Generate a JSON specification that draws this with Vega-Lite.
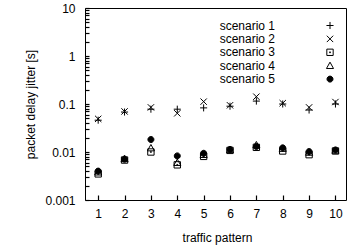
{
  "$schema": "https://vega.github.io/schema/vega-lite/v6.json",
  "width": 261,
  "height": 192,
  "autosize": {"type": "none"},
  "padding": {"left": 85, "top": 8, "right": 4, "bottom": 48},
  "background": "white",
  "config": {
    "view": {"stroke": "black", "strokeWidth": 1},
    "font": "Liberation Sans",
    "axis": {"labelFont": "Liberation Sans", "labelFontSize": 12, "labelColor": "black", "titleFont": "Liberation Sans", "titleFontSize": 12, "titleFontWeight": "normal", "titleColor": "black", "domain": false, "ticks": true, "tickColor": "#000000", "tickWidth": 1.2, "grid": false},
    "legend": {"labelFont": "Liberation Sans", "labelFontSize": 12, "labelColor": "black"}
  },
  "data": {"values": [
    {"p":1,"s":"scenario 1","v":0.046},{"p":1,"s":"scenario 2","v":0.049},{"p":1,"s":"scenario 3","v":0.0035},{"p":1,"s":"scenario 4","v":0.0038},{"p":1,"s":"scenario 5","v":0.0040},
    {"p":2,"s":"scenario 1","v":0.068},{"p":2,"s":"scenario 2","v":0.070},{"p":2,"s":"scenario 3","v":0.0068},{"p":2,"s":"scenario 4","v":0.0072},{"p":2,"s":"scenario 5","v":0.0071},
    {"p":3,"s":"scenario 1","v":0.078},{"p":3,"s":"scenario 2","v":0.085},{"p":3,"s":"scenario 3","v":0.0100},{"p":3,"s":"scenario 4","v":0.0121},{"p":3,"s":"scenario 5","v":0.0182},
    {"p":4,"s":"scenario 1","v":0.078},{"p":4,"s":"scenario 2","v":0.064},{"p":4,"s":"scenario 3","v":0.0054},{"p":4,"s":"scenario 4","v":0.0060},{"p":4,"s":"scenario 5","v":0.0083},
    {"p":5,"s":"scenario 1","v":0.083},{"p":5,"s":"scenario 2","v":0.112},{"p":5,"s":"scenario 3","v":0.0081},{"p":5,"s":"scenario 4","v":0.0088},{"p":5,"s":"scenario 5","v":0.0094},
    {"p":6,"s":"scenario 1","v":0.090},{"p":6,"s":"scenario 2","v":0.094},{"p":6,"s":"scenario 3","v":0.0108},{"p":6,"s":"scenario 4","v":0.0111},{"p":6,"s":"scenario 5","v":0.0113},
    {"p":7,"s":"scenario 1","v":0.115},{"p":7,"s":"scenario 2","v":0.142},{"p":7,"s":"scenario 3","v":0.0125},{"p":7,"s":"scenario 4","v":0.0140},{"p":7,"s":"scenario 5","v":0.0130},
    {"p":8,"s":"scenario 1","v":0.100},{"p":8,"s":"scenario 2","v":0.104},{"p":8,"s":"scenario 3","v":0.0105},{"p":8,"s":"scenario 4","v":0.0118},{"p":8,"s":"scenario 5","v":0.0122},
    {"p":9,"s":"scenario 1","v":0.075},{"p":9,"s":"scenario 2","v":0.085},{"p":9,"s":"scenario 3","v":0.0088},{"p":9,"s":"scenario 4","v":0.0098},{"p":9,"s":"scenario 5","v":0.0102},
    {"p":10,"s":"scenario 1","v":0.100},{"p":10,"s":"scenario 2","v":0.110},{"p":10,"s":"scenario 3","v":0.0105},{"p":10,"s":"scenario 4","v":0.0108},{"p":10,"s":"scenario 5","v":0.0110}
  ]},
  "mark": {"type": "point", "filled": false, "strokeWidth": 1, "size": 50, "opacity": 1},
  "encoding": {
    "x": {"field": "p", "type": "quantitative", "title": "traffic pattern",
      "scale": {"domain": [0.5, 10.4], "nice": false, "zero": false},
      "axis": {"orient": "top", "offset": -192, "values": [1,2,3,4,5,6,7,8,9,10], "ticks": true, "tickSize": 5,
        "labelPadding": -13, "labelBaseline": "top", "labelFlush": false,
        "titleX": 132, "titleY": 37, "titleBaseline": "middle", "titleAnchor": null, "titleAlign": "center"}},
    "y": {"field": "v", "type": "quantitative", "title": "packet delay jitter [s]",
      "scale": {"type": "log", "domain": [0.001, 10], "nice": false},
      "axis": {"orient": "right", "offset": -261,
        "values": [0.001,0.002,0.003,0.004,0.005,0.006,0.007,0.008,0.009,0.01,0.02,0.03,0.04,0.05,0.06,0.07,0.08,0.09,0.1,0.2,0.3,0.4,0.5,0.6,0.7,0.8,0.9,1,2,3,4,5,6,7,8,9,10],
        "labelExpr": "datum.value==10?'10':datum.value==1?'1':datum.value==0.1?'0.1':datum.value==0.01?'0.01':datum.value==0.001?'0.001':''",
        "ticks": true, "tickSize": 4,
        "labelAlign": "right", "labelPadding": -14, "labelFlush": false, "labelOverlap": false,
        "titleX": -55, "titleY": 96, "titleAngle": -90, "titleAlign": "center", "titleBaseline": "middle", "titleAnchor": null}},
    "shape": {"field": "s", "type": "nominal", "title": null,
      "scale": {"domain": ["scenario 1","scenario 2","scenario 3","scenario 4","scenario 5"],
        "range": ["M-1,0H1M0,-1V1", "M-0.9,-0.9L0.9,0.9M-0.9,0.9L0.9,-0.9", "M-0.9,-0.9H0.9V0.9H-0.9ZM-0.12,-0.12H0.12V0.12H-0.12Z", "M0,-1L1,0.8H-1Z", "M0.85,0A0.85,0.85,0,1,1,-0.85,0A0.85,0.85,0,1,1,0.85,0Z"]},
      "legend": {"orient": "none", "legendX": 239, "legendY": 11.5, "labelAlign": "right", "labelOffset": -61, "rowPadding": 1.4, "symbolSize": 50, "symbolStrokeWidth": 1, "padding": 0}},
    "fill": {"field": "s", "type": "nominal", "title": null,
      "scale": {"domain": ["scenario 1","scenario 2","scenario 3","scenario 4","scenario 5"],
        "range": ["transparent","transparent","transparent","transparent","black"]}},
    "stroke": {"field": "s", "type": "nominal", "title": null,
      "scale": {"domain": ["scenario 1","scenario 2","scenario 3","scenario 4","scenario 5"],
        "range": ["black","black","black","black","black"]}}
  }
}
